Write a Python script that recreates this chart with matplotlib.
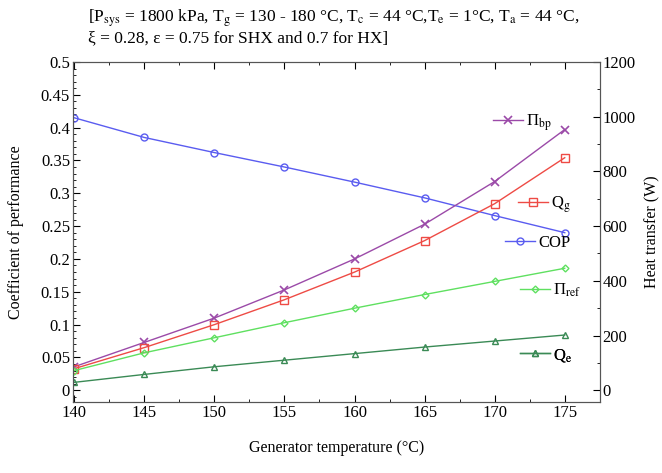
import numpy as np
import matplotlib
matplotlib.use('Agg')
import matplotlib.pyplot as plt
from matplotlib.ticker import MultipleLocator

plt.rcParams['font.family'] = ['Liberation Serif', 'DejaVu Serif']
plt.rcParams['mathtext.fontset'] = 'stix'
plt.rcParams['font.size'] = 12

# generator temperature (°C)
t_gen = [140, 145, 150, 155, 160, 165, 170, 175]
# coefficient of performance (left axis)
cop = [0.415, 0.385, 0.362, 0.340, 0.317, 0.293, 0.266, 0.240]
# heat transfer (W), right axis
pi_bp = [86, 175, 264, 367, 480, 607, 763, 953]
q_g = [79, 156, 240, 331, 432, 547, 682, 850]
pi_ref = [72, 137, 192, 247, 300, 350, 398, 446]
q_e = [29, 58, 86, 110, 134, 158, 180, 202]

fig = plt.figure(figsize=(6.62, 4.73), dpi=100)
ax = fig.add_axes([0.110, 0.150, 0.796, 0.719])
ax2 = ax.twinx()

c_bp, c_g, c_cop, c_ref, c_e = '#9b4aa8', '#ee4b45', '#5a5cf0', '#5fe060', '#3a8a55'

l_cop, = ax.plot(t_gen, cop, '-o', color=c_cop, mfc='none', ms=5, lw=1)
l_bp, = ax2.plot(t_gen, pi_bp, '-x', color=c_bp, ms=6, mew=1.2, lw=1)
l_g, = ax2.plot(t_gen, q_g, '-s', color=c_g, mfc='none', ms=6, lw=1)
l_ref, = ax2.plot(t_gen, pi_ref, '-D', color=c_ref, mfc='none', ms=3.5, lw=1)
l_e, = ax2.plot(t_gen, q_e, '-^', color=c_e, mfc='none', ms=4.5, lw=1)

ax.set_xlim(139.9, 177.5)
ax.set_ylim(-0.018, 0.5)
ax2.set_ylim(-43, 1200)

ax.xaxis.set_major_locator(MultipleLocator(5))
ax.xaxis.set_minor_locator(MultipleLocator(2.5))
ax.yaxis.set_minor_locator(MultipleLocator(0.01))
ax2.yaxis.set_minor_locator(MultipleLocator(100))
ax.set_yticks(np.arange(0, 0.51, 0.05))
ax.set_yticklabels(['0', '0.05', '0.1', '0.15', '0.2', '0.25', '0.3', '0.35', '0.4', '0.45', '0.5'])
ax2.set_yticks(np.arange(0, 1201, 200))

ax.tick_params(which='both', direction='in', top=True, right=False, labelsize=12, pad=2)
ax.tick_params(which='major', length=5)
ax.tick_params(which='minor', length=2.5)
ax2.tick_params(which='both', direction='in', labelsize=12, pad=2)
ax2.tick_params(which='major', length=5)
ax2.tick_params(which='minor', length=2.5)
for a in (ax, ax2):
    for s in a.spines.values():
        s.set_color('#555555')

ax.set_xlabel('Generator temperature (°C)', fontsize=11.5, labelpad=14)
ax.set_ylabel('Coefficient of performance', fontsize=11.5, labelpad=12)
ax2.set_ylabel('Heat transfer (W)', fontsize=11.5, labelpad=6)

title = ('[P$_{\\rm sys}$ = 1800 kPa, T$_{\\rm g}$ = 130 - 180 °C, T$_{\\rm c}$ = 44 °C,'
         'T$_{\\rm e}$ = 1°C, T$_{\\rm a}$ = 44 °C,\n'
         'ξ = 0.28, ε = 0.75 for SHX and 0.7 for HX]')
fig.text(0.133, 0.985, title, ha='left', va='top', fontsize=12.5, linespacing=1.1)

# inline labels next to curves
labels = [(l_bp, 'Π$_{\\rm bp}$', 0.797, 0.82),
          (l_g, 'Q$_{\\rm g}$', 0.845, 0.579),
          (l_cop, 'COP', 0.82, 0.468),
          (l_ref, 'Π$_{\\rm ref}$', 0.848, 0.329),
          (l_e, 'Q$_{\\rm e}$', 0.848, 0.138)]
for h, txt, fx, fy in labels:
    lg = ax2.legend([h], [txt], loc='center left', bbox_to_anchor=(fx, fy),
                    frameon=False, borderpad=0, borderaxespad=0,
                    handlelength=1.8, handletextpad=0.2, numpoints=1, fontsize=12)
    ax2.add_artist(lg)

fig.savefig('out.png', dpi=100)
